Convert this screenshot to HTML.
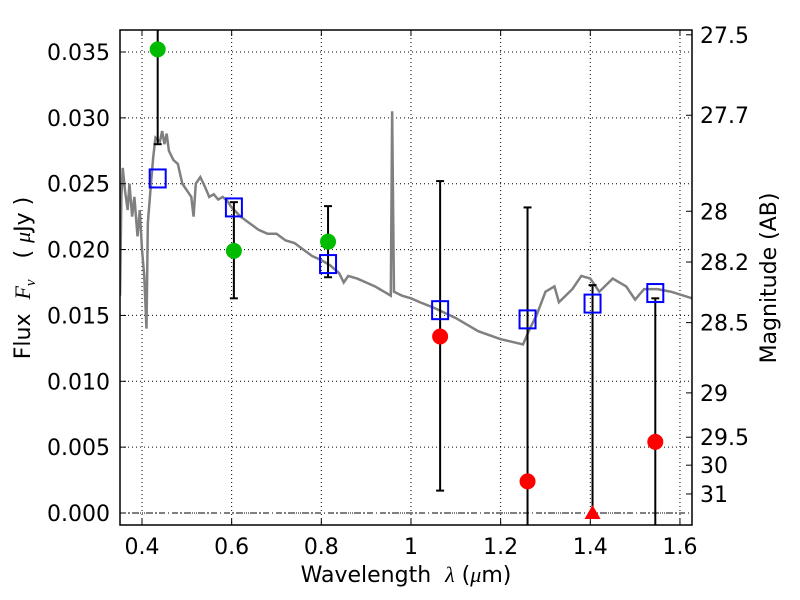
<!DOCTYPE html>
<html><head><meta charset="utf-8"><style>
html,body{margin:0;padding:0;background:#fff;overflow:hidden;width:800px;height:600px;}
svg{display:block;font-family:"DejaVu Sans","Liberation Sans",sans-serif;}
</style></head><body>
<svg id="chart" width="800" height="600"></svg>
<script>
const xTicks=[0.4,0.6,0.8,1.0,1.2,1.4,1.6];
const xTickLabels=["0.4","0.6","0.8","1","1.2","1.4","1.6"];
const yTicks=[0,0.005,0.01,0.015,0.02,0.025,0.03,0.035];
const yTickLabels=["0.000","0.005","0.010","0.015","0.020","0.025","0.030","0.035"];
const magTicks=[27.5,27.7,28,28.2,28.5,29,29.5,30,31];
const magLabels=["27.5","27.7","28","28.2","28.5","29","29.5","30","31"];
const specX=[0.351,0.354,0.357,0.362,0.368,0.372,0.378,0.383,0.39,0.395,0.40,0.405,0.41,0.413,0.42,0.425,0.43,0.44,0.445,0.45,0.455,0.46,0.47,0.48,0.49,0.50,0.51,0.515,0.52,0.53,0.54,0.55,0.56,0.57,0.58,0.59,0.60,0.62,0.64,0.66,0.68,0.70,0.72,0.74,0.76,0.78,0.80,0.82,0.84,0.85,0.86,0.88,0.90,0.92,0.94,0.955,0.958,0.962,0.98,1.00,1.02,1.05,1.10,1.15,1.20,1.25,1.265,1.28,1.30,1.32,1.33,1.36,1.38,1.40,1.42,1.45,1.48,1.50,1.52,1.55,1.58,1.627];
const specY=[0.0165,0.0240,0.0262,0.0245,0.0230,0.0250,0.0225,0.0240,0.0210,0.0230,0.0200,0.0180,0.0140,0.0220,0.0250,0.0270,0.0285,0.0282,0.0290,0.0280,0.0288,0.0275,0.0268,0.0265,0.0250,0.0245,0.0240,0.0225,0.0250,0.0255,0.0248,0.0240,0.0242,0.0238,0.0240,0.0237,0.0232,0.0225,0.0220,0.0215,0.0212,0.0212,0.0207,0.0205,0.0200,0.0195,0.0192,0.0188,0.0182,0.0175,0.0180,0.0178,0.0175,0.0172,0.0168,0.0165,0.0305,0.0168,0.0165,0.0163,0.0160,0.0156,0.0148,0.0138,0.0132,0.0128,0.0140,0.0150,0.0168,0.0172,0.0160,0.0170,0.0180,0.0178,0.0168,0.0178,0.0172,0.0162,0.0170,0.0170,0.0168,0.0163];
const greenX=[0.435,0.605,0.815];
const greenY=[0.0352,0.0199,0.0206];
const blueX=[0.435,0.605,0.815,1.065,1.26,1.405,1.545];
const blueY=[0.0254,0.0232,0.0189,0.0154,0.0147,0.0159,0.0167];
const redX=[1.065,1.26,1.545];
const redY=[0.0134,0.0024,0.0054];
const triX=[1.405];
const triY=[0.0];
const errX=[0.435,0.605,0.815,1.065,1.26,1.405,1.545];
const errLo=[0.0280,0.0163,0.0179,0.0017,-0.01,0.0,-0.01];
const errHi=[0.05,0.0236,0.0233,0.0252,0.0232,0.0173,0.0163];

const L=120,R=692,T=30,B=525;
const xs=v=>142+(v-0.4)*448.3;
const ys=v=>513-v*13171;
const cy=v=>Math.max(T,Math.min(B,ys(v)));
const magY=m=>ys(Math.pow(10,(23.9-m)/2.5));
const NS="http://www.w3.org/2000/svg";
const svg=document.getElementById('chart');
function mk(tag,attrs,parent){const e=document.createElementNS(NS,tag);for(const k in attrs)e.setAttribute(k,attrs[k]);(parent||svg).appendChild(e);return e;}
const defs=mk('defs',{});const cp=mk('clipPath',{id:'clip'},defs);mk('rect',{x:L,y:T,width:R-L,height:B-T},cp);
const grid=mk('g',{});


xTicks.forEach(v=>mk('line',{x1:xs(v),x2:xs(v),y1:T,y2:B,stroke:'#000','stroke-width':1,'stroke-dasharray':'1,3'},grid));
yTicks.forEach(v=>mk('line',{x1:L,x2:R,y1:ys(v),y2:ys(v),stroke:'#000','stroke-width':1,'stroke-dasharray':'1,3'},grid));
const plot=mk('g',{'clip-path':'url(#clip)'});


const zl=mk('line',{x1:L,x2:R,y1:ys(0),y2:ys(0),stroke:'#000','stroke-width':1,'stroke-dasharray':'6,3,1,3'},plot);


const sp=mk('polyline',{points:specX.map((x,i)=>xs(x)+','+ys(specY[i])).join(' '),fill:'none',stroke:'#808080','stroke-width':2.5},plot);


errX.forEach((x,i)=>{
 const g=mk('g',{},plot);
 
 
 mk('line',{x1:xs(x),x2:xs(x),y1:cy(errLo[i]),y2:cy(errHi[i]),stroke:'#000','stroke-width':2},g);
 [errLo[i],errHi[i]].forEach(v=>{const yy=ys(v);if(yy>=T&&yy<=B)mk('line',{x1:xs(x)-4,x2:xs(x)+4,y1:yy,y2:yy,stroke:'#000','stroke-width':2},g);});
});
greenX.forEach((x,i)=>{const c=mk('circle',{cx:xs(x),cy:ys(greenY[i]),r:8,fill:'#00bb00'},plot);
 
 });
redX.forEach((x,i)=>{const c=mk('circle',{cx:xs(x),cy:ys(redY[i]),r:8,fill:'#ff0000'},plot);
 
 });
triX.forEach((x,i)=>{const cx=xs(x),cyy=ys(triY[i]);const t=mk('polygon',{points:`${cx-8},${cyy+6} ${cx+8},${cyy+6} ${cx},${cyy-8}`,fill:'#ff0000'},plot);
 
 });
blueX.forEach((x,i)=>{const s=mk('rect',{x:xs(x)-8,y:ys(blueY[i])-9,width:16,height:18,fill:'none',stroke:'#0000ff','stroke-width':2},plot);
 
 });
const fr=mk('rect',{x:L,y:T,width:R-L,height:B-T,fill:'none',stroke:'#000','stroke-width':1.5});


xTicks.forEach((v,i)=>{
 mk('line',{x1:xs(v),x2:xs(v),y1:B,y2:B-6,stroke:'#000'});mk('line',{x1:xs(v),x2:xs(v),y1:T,y2:T+6,stroke:'#000'});
 const t=mk('text',{x:xs(v),y:B+29,'font-size':22,'text-anchor':'middle'});t.textContent=xTickLabels[i];
 
 
});
yTicks.forEach((v,i)=>{
 mk('line',{x1:L,x2:L+6,y1:ys(v),y2:ys(v),stroke:'#000'});
 const t=mk('text',{x:L-10,y:ys(v)+8,'font-size':22,'text-anchor':'end'});t.textContent=yTickLabels[i];
 
 
});
magTicks.forEach((m,i)=>{
 mk('line',{x1:R,x2:R-6,y1:magY(m),y2:magY(m),stroke:'#000'});
 const t=mk('text',{x:R+8,y:magY(m)+8,'font-size':22}); t.textContent=magLabels[i];
 
 
});
const xt=mk('text',{x:406,y:582,'font-size':22,'text-anchor':'middle',style:'white-space:pre'});
xt.innerHTML='Wavelength  <tspan font-style="italic" font-family="Liberation Serif,serif">λ</tspan> (<tspan font-style="italic" font-family="Liberation Serif,serif">μ</tspan>m)';


const yt=mk('text',{x:0,y:0,'font-size':22,'text-anchor':'middle',transform:'translate(30,278) rotate(-90)',style:'white-space:pre'});
yt.innerHTML='Flux  <tspan font-style="italic" font-family="Liberation Serif,serif">F</tspan><tspan font-size="15" dy="5" font-style="italic" font-family="Liberation Serif,serif">ν</tspan><tspan dy="-5">   ( </tspan><tspan font-style="italic" font-family="Liberation Serif,serif">μ</tspan>Jy )';


const rt=mk('text',{x:0,y:0,'font-size':22,'text-anchor':'middle',transform:'translate(776,278) rotate(-90)'});
rt.textContent='Magnitude (AB)';


</script>
</body></html>
